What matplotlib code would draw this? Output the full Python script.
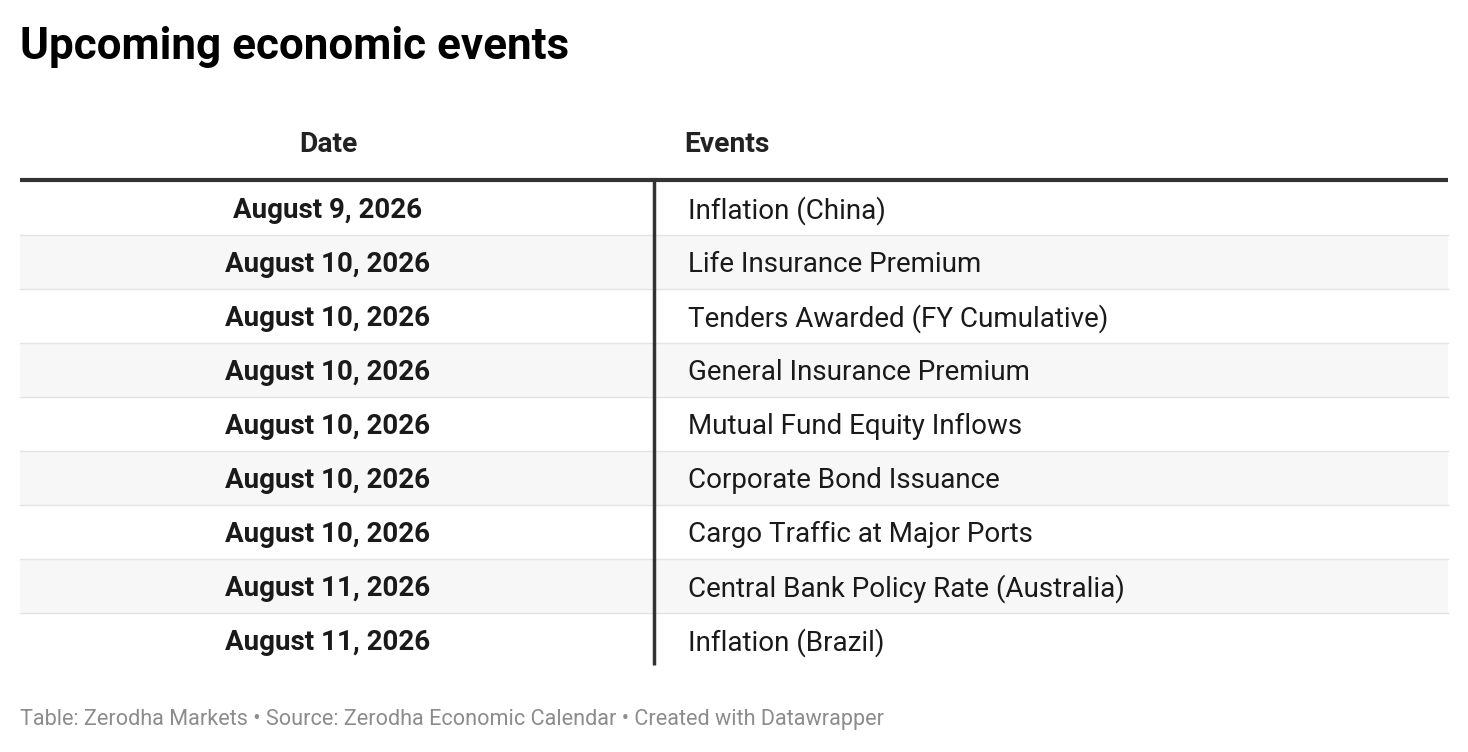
import matplotlib.pyplot as plt
from matplotlib.patches import Rectangle

title = "Upcoming economic events"
headers = ["Date", "Events"]
dates = ["August 9, 2026", "August 10, 2026", "August 10, 2026", "August 10, 2026",
         "August 10, 2026", "August 10, 2026", "August 10, 2026", "August 11, 2026",
         "August 11, 2026"]
events = ["Inflation (China)", "Life Insurance Premium", "Tenders Awarded (FY Cumulative)",
          "General Insurance Premium", "Mutual Fund Equity Inflows", "Corporate Bond Issuance",
          "Cargo Traffic at Major Ports", "Central Bank Policy Rate (Australia)",
          "Inflation (Brazil)"]
footer = "Table: Zerodha Markets • Source: Zerodha Economic Calendar • Created with Datawrapper"

plt.rcParams['font.family'] = ['Roboto', 'DejaVu Sans']
W, H = 1468, 752
fig = plt.figure(figsize=(W / 100, H / 100), dpi=100)
ax = fig.add_axes([0, 0, 1, 1])
ax.set_xlim(0, W)
ax.set_ylim(H, 0)
ax.axis("off")

left, right, div = 20, 1448, 654
top, row_h = 181, 54

ax.text(20, 47, title, fontsize=31.7, fontweight="bold", va="center", ha="left", color="#000")
ax.text(328, 145, headers[0], fontsize=20.3, fontweight="bold", va="center", ha="center", color="#222")
ax.text(684, 145, headers[1], fontsize=20.3, fontweight="bold", va="center", ha="left", color="#222")

for i, (d, e) in enumerate(zip(dates, events)):
    y0 = top + i * row_h
    if i % 2 == 1:
        ax.add_patch(Rectangle((left, y0), right - left, row_h, color="#f7f7f7", lw=0, zorder=0))
    if i > 0:
        ax.plot([left, right], [y0, y0], color="#e3e3e3", lw=1, zorder=1)
    yc = y0 + row_h / 2 + 2.5
    ax.text(328, yc, d, fontsize=20, fontweight="bold", va="center", ha="center", color="#1a1a1a")
    ax.text(688, yc, e, fontsize=20, va="center", ha="left", color="#1a1a1a")

ax.plot([left, right], [top - 1, top - 1], color="#333", lw=3, zorder=3, solid_capstyle="butt")
ax.plot([div, div], [top, top + len(dates) * row_h - 2], color="#333", lw=2.5, zorder=3,
        solid_capstyle="butt")

ax.text(20, 719, footer, fontsize=15.6, va="center", ha="left", color="#8c8c8c")

fig.savefig("out.png", dpi=100, facecolor="white")
